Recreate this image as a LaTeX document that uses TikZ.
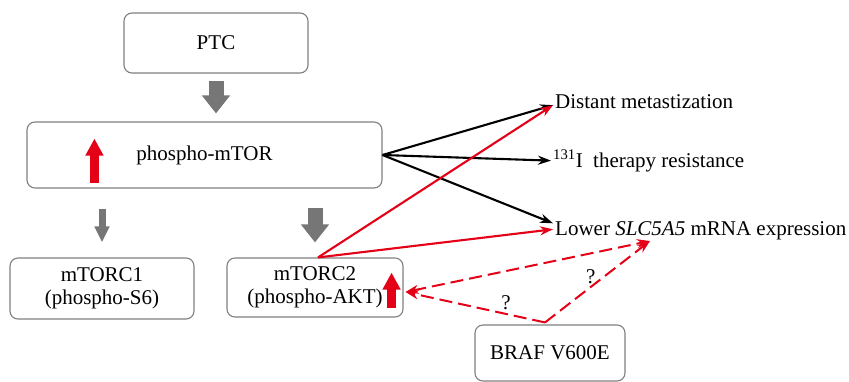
\documentclass[tikz,border=0pt]{standalone}
\usepackage{fontspec}
\setmainfont{Liberation Serif}
\usetikzlibrary{arrows.meta, positioning}
\definecolor{boxgray}{RGB}{128,128,128}
\definecolor{fatgray}{RGB}{118,118,118}
\definecolor{upred}{RGB}{228,0,22}
\tikzstyle{box} = [rectangle, draw=boxgray, line width=1.1pt, rounded corners=8pt, align=center, inner sep=0pt]
\tikzstyle{outcome} = [anchor=base west, inner sep=2pt]
\tikzstyle{blackarrow} = [line width=2.1pt, -{Stealth[length=13pt,width=9pt]}]
\tikzstyle{redarrow} = [blackarrow, draw=upred]
\tikzstyle{dashedred} = [draw=upred, line width=2pt, dash pattern=on 13pt off 6pt, -{Stealth[length=13pt,width=9pt]}]
\tikzstyle{fatarrow} = [draw=fatgray, line width=15pt, -{Triangle[length=18pt,width=27pt]}]
\tikzstyle{thinfatarrow} = [draw=fatgray, line width=7pt, -{Triangle[length=16pt,width=14pt]}]
\tikzstyle{uparrow} = [draw=upred, line width=9pt, -{Triangle[length=17pt,width=17pt]}]
\begin{document}
\begin{tikzpicture}[x=1pt, y=-1pt, font=\fontsize{21}{23}\selectfont]
        \useasboundingbox (0,0) rectangle (849,381);

        % Boxes (left part)
        \node (ptc) [box, minimum width=184pt, minimum height=60pt] at (216,43) {PTC};
        \node (mtor) [box, minimum width=355pt, minimum height=66pt] at (204.5,155) {phospho-mTOR};
        \node (mtorc1) [box, minimum width=184pt, minimum height=61pt] at (102,288.5) {mTORC1\\(phospho-S6)};
        \node (mtorc2) [box, minimum width=176pt, minimum height=59pt] at (315,287.5) {mTORC2\\(phospho-AKT)};
        \node (braf) [box, minimum width=150pt, minimum height=56pt] at (550,353) {BRAF V600E};

        % Outcomes on the right
        \node (dist) [outcome] at (553,108) {Distant metastization};
        \node (therapy) [outcome] at (551,167) {\textsuperscript{131}I\enspace therapy resistance};
        \node (lower) [outcome] at (553,235) {Lower \textit{SLC5A5} mRNA expression};

        % Grey block arrows down
        \draw [fatarrow, shorten <=7pt, shorten >=8pt] (ptc.south) -- (ptc.south |- mtor.north);
        \draw [thinfatarrow, shorten <=20pt, shorten >=15pt] (mtorc1.north |- mtor.south) -- (mtorc1.north);
        \draw [fatarrow, shorten <=19pt, shorten >=15pt] (mtorc2.north |- mtor.south) -- (mtorc2.north);

        % Red "up" marks inside boxes
        \draw [uparrow] ([xshift=68pt,yshift=6pt]mtor.south west) -- ([xshift=68pt,yshift=50pt]mtor.south west);
        \draw [uparrow] ([xshift=-12pt,yshift=10pt]mtorc2.south east) -- ([xshift=-12pt,yshift=45pt]mtorc2.south east);

        % Black arrows from phospho-mTOR
        \draw [blackarrow] (mtor.east) -- ([yshift=-4pt]dist.west);
        \draw [blackarrow] (mtor.east) -- (therapy.west);
        \draw [blackarrow] (mtor.east) -- ([yshift=7pt]lower.west);

        % Red arrows from mTORC2
        \draw [redarrow] ([xshift=3pt]mtorc2.north) -- ([yshift=-4pt]dist.west);
        \draw [redarrow] ([xshift=3pt]mtorc2.north) -- ([yshift=1pt]lower.west);

        % Dashed links with BRAF V600E
        \coordinate (slcfoot) at ([xshift=97pt,yshift=-6pt]lower.base west);
        \coordinate (akt) at ([xshift=2pt,yshift=-4.5pt]mtorc2.east);
        \coordinate (braftop) at ([xshift=-5pt,yshift=2pt]braf.north);
        \draw [dashedred] (braftop) -- node[pos=0.28, above, text=black] {?} (akt);
        \draw [dashedred] (braftop) -- node[pos=0.56, left=4pt, text=black] {?} (slcfoot);
        \draw [dashedred, {Stealth[length=13pt,width=9pt]}-{Stealth[length=13pt,width=9pt]}] (akt) -- (slcfoot);

    \end{tikzpicture}
\end{document}
